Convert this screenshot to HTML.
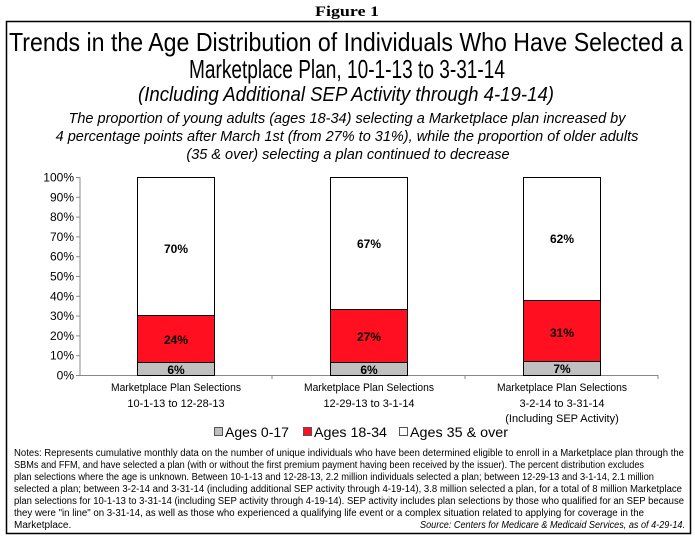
<!DOCTYPE html>
<html><head><meta charset="utf-8"><style>
html,body{margin:0;padding:0;background:#fff;}
svg{display:block;font-family:"Liberation Sans",Arial,sans-serif;}
</style></head><body>
<svg width="695" height="543" viewBox="0 0 695 543" xmlns="http://www.w3.org/2000/svg">
<rect width="695" height="543" fill="#fff"/>
<text x="347" y="16" text-anchor="middle" font-family="Liberation Serif,serif" font-weight="bold" font-size="15" textLength="64" lengthAdjust="spacingAndGlyphs">Figure 1</text>
<rect x="6.5" y="21.5" width="684" height="512" fill="none" stroke="#000" stroke-width="1.5"/>
<text x="346" y="51" text-anchor="middle" font-size="26" textLength="674" lengthAdjust="spacingAndGlyphs">Trends in the Age Distribution of Individuals Who Have Selected a</text>
<text x="347" y="78" text-anchor="middle" font-size="26" textLength="316" lengthAdjust="spacingAndGlyphs">Marketplace Plan, 10-1-13 to 3-31-14</text>
<text x="346" y="101" text-anchor="middle" font-size="20" font-style="italic" textLength="416" lengthAdjust="spacingAndGlyphs">(Including Additional SEP Activity through 4-19-14)</text>
<g font-size="14.5" font-style="italic" text-anchor="middle">
<text x="347" y="123">The proportion of young adults (ages 18-34) selecting a Marketplace plan increased by</text>
<text x="347" y="141">4 percentage points after March 1st (from 27% to 31%), while the proportion of older adults</text>
<text x="348" y="159">(35 &amp; over) selecting a plan continued to decrease</text>
</g>
<g stroke="#888" stroke-width="1">
<line x1="80" y1="177" x2="80" y2="375.5"/>
<line x1="80" y1="375.5" x2="658" y2="375.5"/>
<line x1="76" y1="177.5" x2="80" y2="177.5"/><line x1="76" y1="197.3" x2="80" y2="197.3"/>
<line x1="76" y1="217.1" x2="80" y2="217.1"/><line x1="76" y1="236.9" x2="80" y2="236.9"/>
<line x1="76" y1="256.7" x2="80" y2="256.7"/><line x1="76" y1="276.5" x2="80" y2="276.5"/>
<line x1="76" y1="296.3" x2="80" y2="296.3"/><line x1="76" y1="316.1" x2="80" y2="316.1"/>
<line x1="76" y1="335.9" x2="80" y2="335.9"/><line x1="76" y1="355.7" x2="80" y2="355.7"/>
<line x1="76" y1="375.5" x2="80" y2="375.5"/>
<line x1="272" y1="375" x2="272" y2="379"/><line x1="465" y1="375" x2="465" y2="379"/><line x1="658" y1="375" x2="658" y2="379"/>
</g>
<g font-size="12" text-anchor="end" fill="#000">
<text x="74" y="181.5">100%</text><text x="74" y="201.3">90%</text><text x="74" y="221.1">80%</text>
<text x="74" y="240.9">70%</text><text x="74" y="260.7">60%</text><text x="74" y="280.5">50%</text>
<text x="74" y="300.3">40%</text><text x="74" y="320.1">30%</text><text x="74" y="339.9">20%</text>
<text x="74" y="359.7">10%</text><text x="74" y="379.5">0%</text>
</g>
<g stroke="#000" stroke-width="1">
<rect x="137.5" y="177.5" width="77" height="138" fill="#fff"/>
<rect x="137.5" y="315.5" width="77" height="47" fill="#ff0f1f"/>
<rect x="137.5" y="362.5" width="77" height="13" fill="#c0c0c0"/>
<rect x="330.5" y="177.5" width="77" height="132" fill="#fff"/>
<rect x="330.5" y="309.5" width="77" height="53" fill="#ff0f1f"/>
<rect x="330.5" y="362.5" width="77" height="13" fill="#c0c0c0"/>
<rect x="523.5" y="177.5" width="77" height="123" fill="#fff"/>
<rect x="523.5" y="300.5" width="77" height="61" fill="#ff0f1f"/>
<rect x="523.5" y="361.5" width="77" height="14" fill="#c0c0c0"/>
</g>
<g font-size="12" font-weight="bold" text-anchor="middle">
<text x="176" y="253">70%</text><text x="176" y="344">24%</text><text x="176" y="374">6%</text>
<text x="369" y="248">67%</text><text x="369" y="341">27%</text><text x="369" y="374">6%</text>
<text x="562" y="243">62%</text><text x="562" y="337">31%</text><text x="562" y="373">7%</text>
</g>
<g font-size="11" text-anchor="middle">
<text x="176" y="391" textLength="130" lengthAdjust="spacingAndGlyphs">Marketplace Plan Selections</text>
<text x="176" y="407">10-1-13 to 12-28-13</text>
<text x="369" y="391" textLength="130" lengthAdjust="spacingAndGlyphs">Marketplace Plan Selections</text>
<text x="369" y="407">12-29-13 to 3-1-14</text>
<text x="562" y="391" textLength="130" lengthAdjust="spacingAndGlyphs">Marketplace Plan Selections</text>
<text x="562" y="407">3-2-14 to 3-31-14</text>
<text x="562" y="422">(Including SEP Activity)</text>
</g>
<g stroke="#555" stroke-width="1">
<rect x="214.5" y="427.5" width="8" height="8" fill="#c0c0c0"/>
<rect x="303.5" y="427.5" width="8" height="8" fill="#ff0f1f"/>
<rect x="399.5" y="427.5" width="8" height="8" fill="#fff"/>
</g>
<g font-size="14">
<text x="225" y="437" textLength="64" lengthAdjust="spacingAndGlyphs">Ages 0-17</text>
<text x="314" y="437" textLength="73" lengthAdjust="spacingAndGlyphs">Ages 18-34</text>
<text x="410" y="437" textLength="98" lengthAdjust="spacingAndGlyphs">Ages 35 &amp; over</text>
</g>
<g font-size="10">
<text x="14" y="456" textLength="670" lengthAdjust="spacingAndGlyphs">Notes:  Represents cumulative monthly data on the number of unique individuals who have been determined eligible to enroll in a Marketplace plan through the</text>
<text x="14" y="468" textLength="630" lengthAdjust="spacingAndGlyphs">SBMs and FFM, and have selected a plan (with or without the first premium payment having been received by the issuer).  The percent distribution excludes</text>
<text x="14" y="480" textLength="640" lengthAdjust="spacingAndGlyphs">plan selections where the age is unknown.  Between 10-1-13 and 12-28-13, 2.2 million individuals selected a plan; between 12-29-13 and 3-1-14, 2.1 million</text>
<text x="14" y="492" textLength="668" lengthAdjust="spacingAndGlyphs">selected a plan; between 3-2-14 and 3-31-14 (including additional SEP activity through 4-19-14), 3.8 million selected a plan, for a total of 8 million Marketplace</text>
<text x="14" y="504" textLength="670" lengthAdjust="spacingAndGlyphs">plan selections for 10-1-13 to 3-31-14 (including SEP activity through 4-19-14). SEP activity includes plan selections by those who qualified for an SEP because</text>
<text x="14" y="516" textLength="630" lengthAdjust="spacingAndGlyphs">they were "in line" on 3-31-14, as well as those who experienced a qualifying life event or a complex situation related to applying for coverage in the</text>
<text x="14" y="528">Marketplace.</text>
<text x="685" y="528" text-anchor="end" font-style="italic" textLength="265" lengthAdjust="spacingAndGlyphs">Source:  Centers for Medicare &amp; Medicaid Services, as of 4-29-14.</text>
</g>
</svg>
</body></html>
